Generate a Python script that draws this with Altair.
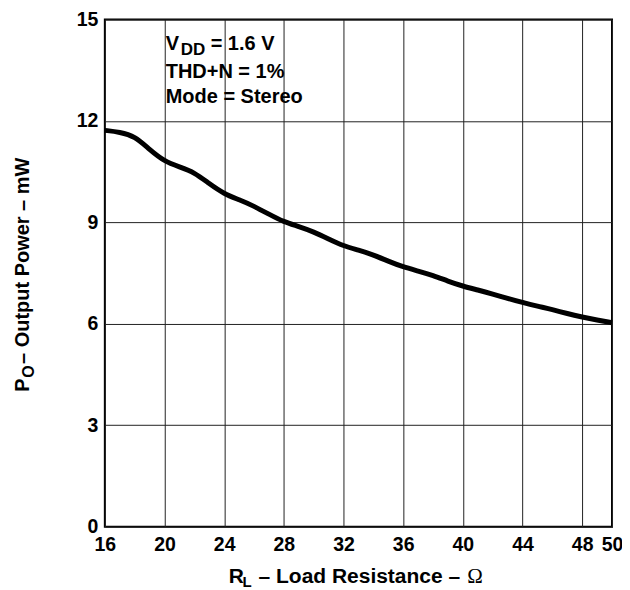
import altair as alt
import pandas as pd

# Load resistance (ohm) and output power (mW)
rl = [16, 17, 18, 19, 20, 21, 22, 23, 24, 25, 26, 27, 28, 29, 30, 31, 32, 33,
      34, 35, 36, 37, 38, 39, 40, 41, 42, 43, 44, 45, 46, 47, 48, 49, 50]
po = [11.72, 11.67, 11.55, 11.15, 10.8, 10.64, 10.48, 10.14, 9.84, 9.67, 9.48,
      9.24, 9.01, 8.88, 8.72, 8.51, 8.3, 8.18, 8.04, 7.85, 7.68, 7.56, 7.43,
      7.26, 7.11, 7.0, 6.88, 6.75, 6.63, 6.52, 6.42, 6.3, 6.2, 6.11, 6.03]

x_ticks = [16, 20, 24, 28, 32, 36, 40, 44, 48, 50]
y_ticks = [0, 3, 6, 9, 12, 15]

df = pd.DataFrame({"rl": rl, "po": po})

W, H = 508, 508
OX, OY = 105, 19  # plot origin on the page
FONT = "Liberation Sans"

line = alt.Chart(df).mark_line(color="black", strokeWidth=5, interpolate="basis").encode(
    x=alt.X("rl:Q", scale=alt.Scale(domain=[16, 50], nice=False, zero=False),
            axis=alt.Axis(values=x_ticks, title=None, labelFlush=False, labelPadding=9,
                          labelBaseline="top")),
    y=alt.Y("po:Q", scale=alt.Scale(domain=[0, 15], nice=False),
            axis=alt.Axis(values=y_ticks, title=None, labelPadding=7, labelFlush=False,
                          labelBaseline="middle")),
)


def txt(s, px, py, size=20, angle=0, font=FONT, weight="bold", align="left"):
    return alt.Chart(pd.DataFrame({"a": [0]})).mark_text(
        text=s, font=font, fontSize=size, fontWeight=weight, angle=angle,
        align=align, baseline="alphabetic", color="black"
    ).encode(x=alt.value(px - OX), y=alt.value(py - OY))


labels = [
    # annotation block
    txt("V", 166, 50),
    txt("DD", 181, 55, size=17),
    txt("= 1.6 V", 211, 50),
    txt("THD+N = 1%", 166, 78),
    txt("Mode = Stereo", 166, 103),
    # x axis title
    txt("R", 229, 583, size=21),
    txt("L", 243, 587, size=15),
    txt("– Load Resistance –", 259, 583, size=21),
    txt("Ω", 468, 583, size=21, font="Liberation Serif", weight="normal"),
    # y axis title (rotated)
    txt("P", 29, 392, size=20, angle=270),
    txt("O", 34, 378, size=16, angle=270),
    txt("– Output Power – mW", 29, 364, size=20, angle=270),
]

chart = alt.layer(line, *labels).properties(
    width=W, height=H,
    autosize=alt.AutoSizeParams(type="none"),
    padding={"left": OX - 8, "top": OY - 8, "right": 10, "bottom": 63},
).configure_axis(
    labelFont=FONT, labelFontWeight="bold", labelFontSize=19.5, labelColor="black",
    grid=True, gridColor="#222222", gridOpacity=1, gridWidth=1,
    domain=False, ticks=False, tickSize=0,
).configure_view(stroke="black", strokeWidth=2)

chart.save("out.html", embed_options={"renderer": "svg", "actions": False})
